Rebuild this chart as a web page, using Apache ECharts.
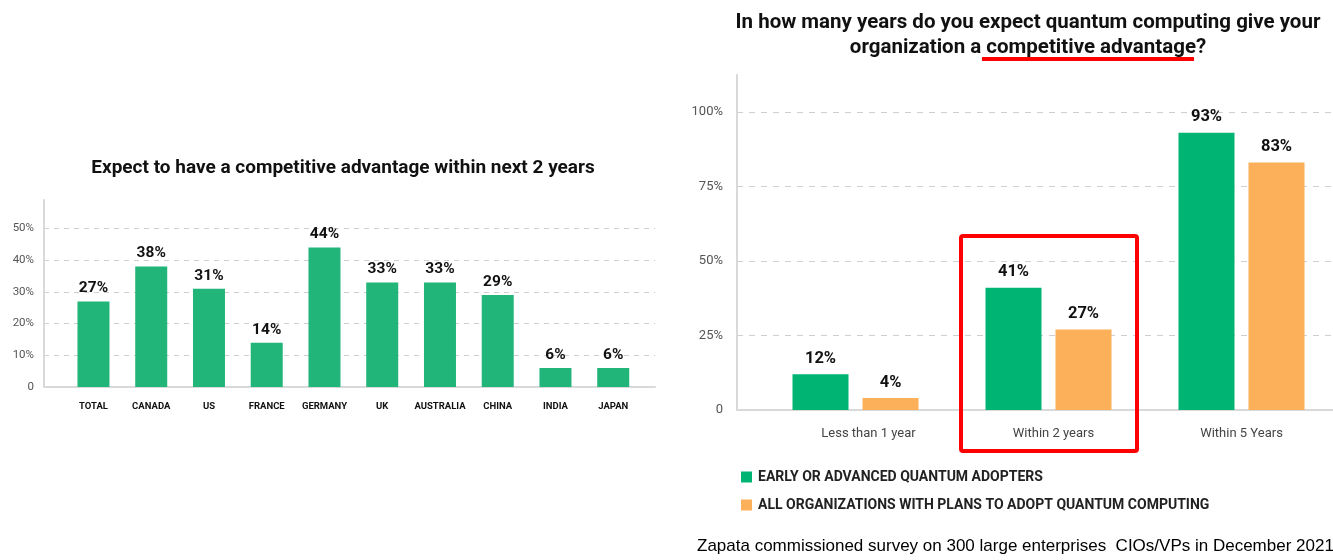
<!DOCTYPE html>
<html><head><meta charset="utf-8">
<script src="https://cdn.jsdelivr.net/npm/echarts@6/dist/echarts.min.js"></script>
<style>html,body{margin:0;padding:0;background:#fff;overflow:hidden}#c{width:1345px;height:560px}</style>
</head><body><div id="c"></div>
<script>
const leftTitle = 'Expect to have a competitive advantage within next 2 years';
const countries = ['TOTAL','CANADA','US','FRANCE','GERMANY','UK','AUSTRALIA','CHINA','INDIA','JAPAN'];
const countryValues = [27,38,31,14,44,33,33,29,6,6];
const leftTicks = [0,10,20,30,40,50];

const rightTitle = 'In how many years do you expect quantum computing give your\norganization a competitive advantage?';
const horizons = ['Less than 1 year','Within 2 years','Within 5 Years'];
const seriesNames = ['EARLY OR ADVANCED QUANTUM ADOPTERS','ALL ORGANIZATIONS WITH PLANS TO ADOPT QUANTUM COMPUTING'];
const adopters = [12,41,93];
const allOrgs = [4,27,83];
const rightTicks = [0,25,50,75,100];
const footnote = 'Zapata commissioned survey on 300 large enterprises  CIOs/VPs in December 2021';

const FONT = 'Roboto, "Liberation Sans", sans-serif';
const chart = echarts.init(document.getElementById('c'));
const grey = '#d9d9d9';

function splitColors(ticks, hasMax){
  const arr = ticks.map((t,i)=> i===0 ? 'rgba(0,0,0,0)' : '#cfcfcf');
  if(hasMax) arr.push('rgba(0,0,0,0)');
  return arr;
}
const xPad = [26, 10, 0];

chart.setOption({
  animation:false,
  textStyle:{fontFamily:FONT},
  title:[
    {text:leftTitle,left:338,top:152,textAlign:'center',textStyle:{fontSize:19,fontWeight:'bold',color:'#111',lineHeight:22,fontFamily:FONT}},
    {text:rightTitle,left:1023,top:5,textAlign:'center',textStyle:{fontSize:20.5,fontWeight:'bold',color:'#111',lineHeight:25,fontFamily:FONT}}
  ],
  legend:{
    data:seriesNames,orient:'vertical',left:736,top:465,itemWidth:11,itemHeight:11,itemGap:14,
    icon:'rect',textStyle:{fontSize:14,fontWeight:'bold',color:'#222',fontFamily:FONT,padding:[0,0,0,1]}
  },
  grid:[
    {left:44,width:611,top:200,height:187},
    {left:64.6,width:577.5,top:200,height:187},
    {left:737,width:600,top:75,height:335},
    {left:759,width:579,top:75,height:335}
  ],
  xAxis:[
    {gridIndex:0,type:'value',min:0,max:1,axisLine:{show:true,lineStyle:{color:grey,width:2}},axisTick:{show:false},axisLabel:{show:false},splitLine:{show:false}},
    {gridIndex:1,type:'category',data:countries,axisLine:{show:false},axisTick:{show:false},
      axisLabel:{fontSize:9.5,fontWeight:'bold',color:'#111',margin:15,interval:0,fontFamily:FONT}},
    {gridIndex:2,type:'value',min:0,max:1,axisLine:{show:true,lineStyle:{color:grey,width:2}},axisTick:{show:false},axisLabel:{show:false},splitLine:{show:false}},
    {gridIndex:3,type:'category',data:horizons,axisLine:{show:false},axisTick:{show:false},
      axisLabel:{margin:17,interval:0,
        formatter:(v,i)=>'{p'+i+'|'+v+'}',
        rich:{
          p0:{fontSize:13,color:'#444',fontFamily:FONT,padding:[0,0,0,xPad[0]]},
          p1:{fontSize:13,color:'#444',fontFamily:FONT,padding:[0,0,0,xPad[1]]},
          p2:{fontSize:13,color:'#444',fontFamily:FONT,padding:[0,0,0,xPad[2]]}
        }}}
  ],
  yAxis:[
    {gridIndex:0,type:'value',min:0,max:59,interval:10,axisLine:{show:true,lineStyle:{color:grey,width:2}},axisTick:{show:false},
      axisLabel:{fontSize:11.5,color:'#555',margin:10,formatter:v=>leftTicks.includes(v)?(v===0?'0':v+'%'):''},
      splitLine:{show:true,lineStyle:{type:[5,5],color:splitColors(leftTicks,true),width:1}}},
    {gridIndex:1,type:'value',min:0,max:59,show:false},
    {gridIndex:2,type:'value',min:0,max:112.4,interval:25,axisLine:{show:true,lineStyle:{color:grey,width:2}},axisTick:{show:false},
      axisLabel:{fontSize:13,color:'#555',margin:14,formatter:v=>rightTicks.includes(v)?(v===0?'0':v+'%'):''},
      splitLine:{show:true,lineStyle:{type:[6,6],color:splitColors(rightTicks,true),width:1}}},
    {gridIndex:3,type:'value',min:0,max:112.4,show:false}
  ],
  series:[
    {name:'Within next 2 years',type:'bar',xAxisIndex:1,yAxisIndex:1,data:countryValues,barWidth:32,
      itemStyle:{color:'#21b57a'},
      label:{show:true,position:'top',distance:5,formatter:'{c}%',fontSize:15.5,fontWeight:'bold',color:'#111',fontFamily:FONT}},
    {name:seriesNames[0],type:'bar',xAxisIndex:3,yAxisIndex:3,data:adopters,barWidth:56,barGap:'25%',
      itemStyle:{color:'#00b574'},
      label:{show:true,position:'top',distance:7,formatter:'{c}%',fontSize:16.5,fontWeight:'bold',color:'#111',fontFamily:FONT}},
    {name:seriesNames[1],type:'bar',xAxisIndex:3,yAxisIndex:3,data:allOrgs,barWidth:56,barGap:'25%',
      itemStyle:{color:'#fcb05a'},
      label:{show:true,position:'top',distance:7,formatter:'{c}%',fontSize:16.5,fontWeight:'bold',color:'#111',fontFamily:FONT}}
  ],
  graphic:[
    {type:'rect',shape:{x:982,y:57,width:212,height:4},style:{fill:'#ff0000'},z:100},
    {type:'rect',shape:{x:961,y:236,width:176,height:215,r:2},style:{fill:'none',stroke:'#ff0000',lineWidth:4},z:100},
    {type:'text',left:697,top:538,style:{text:footnote,fontSize:17,fill:'#000',fontFamily:'"Liberation Sans", "Noto Sans", sans-serif'},z:100}
  ]
});
</script></body></html>
